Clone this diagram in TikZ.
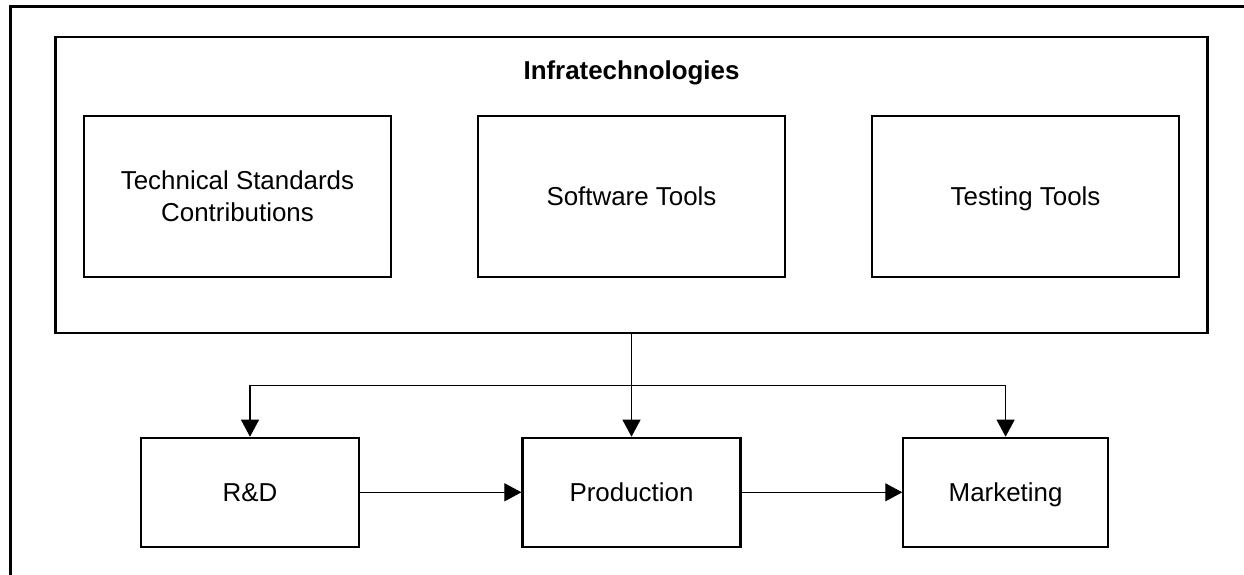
\documentclass[tikz,border=0pt]{standalone}
\usepackage{fontspec}
\setmainfont{Liberation Sans}
\usetikzlibrary{arrows.meta}
\tikzset{
  box/.style={draw=black, line width=2.2bp, rectangle, inner sep=0pt, align=center,
              font=\fontsize{26}{32}\selectfont},
  oneline/.style={text height=18.6bp, text depth=0pt},
  arr/.style={line width=1.1bp, -{Triangle[length=17bp,width=18bp]}},
  frame/.style={line width=3.5bp}
}
\begin{document}
\begin{tikzpicture}[x=1bp,y=-1bp]
\useasboundingbox (0,0) rectangle (1244,575);
\fill[white] (0,0) rectangle (1244,575);
% outer frame (right and bottom edges cropped off)
\draw[frame] (10.7,600) -- (10.7,6.7) -- (1260,6.7);
% Infratechnologies container
\node[box, minimum width=1152bp, minimum height=296bp] (infra) at (631.5,184.8) {};
\node[font=\fontsize{26}{32}\selectfont\bfseries, anchor=base] (title) at (631.5,80) {Infratechnologies};
% inner boxes
\node[box, minimum width=307bp, minimum height=161.5bp] (tech) at (237.5,196.5) {Technical Standards\\Contributions};
\node[box, oneline, minimum width=307bp, minimum height=161.5bp] (soft) at (631.5,196.5) {Software Tools};
\node[box, oneline, minimum width=307bp, minimum height=161.5bp] (test) at (1025.5,196.5) {Testing Tools};
% bottom boxes
\node[box, oneline, minimum width=218bp, minimum height=109bp] (rd) at (250,492.3) {R\&D};
\node[box, oneline, minimum width=218bp, minimum height=109bp] (prod) at (631.5,492.3) {Production};
\node[box, oneline, minimum width=204.5bp, minimum height=109bp] (mk) at (1005.6,492.3) {Marketing};
% connectors
\coordinate (bus) at (631.5,385.7);
\draw[arr] (infra.south) -- (prod.north);
\draw[arr] (bus) -| (rd.north);
\draw[arr] (bus) -| (mk.north);
\draw[arr] (rd.east) -- (prod.west);
\draw[arr] (prod.east) -- (mk.west);
\end{tikzpicture}
\end{document}
